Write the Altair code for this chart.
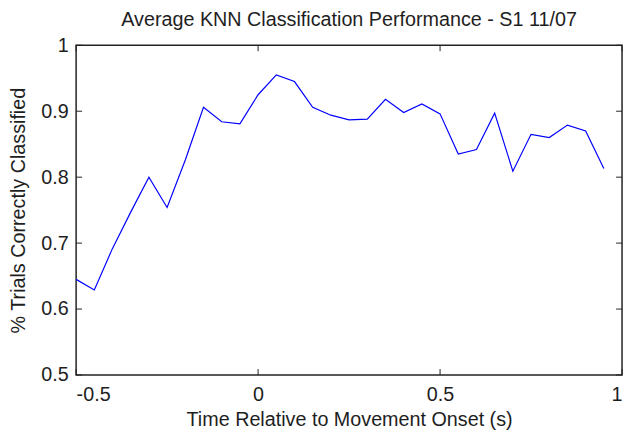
import altair as alt
import pandas as pd

# ---- data ----
time_s = [-0.50, -0.45, -0.40, -0.35, -0.30, -0.25, -0.20, -0.15, -0.10, -0.05,
          0.00, 0.05, 0.10, 0.15, 0.20, 0.25, 0.30, 0.35, 0.40, 0.45,
          0.50, 0.55, 0.60, 0.65, 0.70, 0.75, 0.80, 0.85, 0.90, 0.95]
pct_correct = [0.645, 0.629, 0.692, 0.747, 0.800, 0.754, 0.826, 0.906, 0.884, 0.881,
               0.925, 0.955, 0.945, 0.906, 0.894, 0.887, 0.888, 0.918, 0.898, 0.911,
               0.896, 0.835, 0.842, 0.897, 0.809, 0.865, 0.860, 0.879, 0.870, 0.813]
x_ticks = [-0.5, 0, 0.5, 1]
y_ticks = [0.5, 0.6, 0.7, 0.8, 0.9, 1.0]

W, H = 553, 334
FONT = "Liberation Sans"
TXT = "#1e1e1e"
TL = 6  # inward tick length

df = pd.DataFrame({"t": time_s, "v": pct_correct})
xt = pd.DataFrame({"x": x_ticks})
yt = pd.DataFrame({"y": y_ticks})

label_expr = "datum.value < 0 ? '-' + format(-datum.value, '.1~f') : format(datum.value, '.1~f')"

xscale = alt.Scale(domain=[-0.5, 1], nice=False, zero=False)
yscale = alt.Scale(domain=[0.5, 1], nice=False, zero=False)

line = alt.Chart(df).mark_line(color="#0000ff", strokeWidth=1.2).encode(
    x=alt.X("t:Q", scale=xscale,
            axis=alt.Axis(values=x_ticks, title="Time Relative to Movement Onset (s)",
                          labelExpr=label_expr, ticks=False, domain=False, grid=False,
                          labelPadding=10, titleY=51, titleBaseline="alphabetic")),
    y=alt.Y("v:Q", scale=yscale,
            axis=alt.Axis(values=y_ticks, title="% Trials Correctly Classified",
                          labelExpr=label_expr, ticks=False, domain=False, grid=False,
                          labelPadding=8, titleX=-52, titleBaseline="alphabetic")),
)

tick_style = dict(color="#222222", strokeWidth=1)
xt_bottom = alt.Chart(xt).mark_rule(**tick_style).encode(
    x=alt.X("x:Q", scale=xscale), y=alt.value(H), y2=alt.value(H - TL))
xt_top = alt.Chart(xt).mark_rule(**tick_style).encode(
    x=alt.X("x:Q", scale=xscale), y=alt.value(0), y2=alt.value(TL))
yt_left = alt.Chart(yt).mark_rule(**tick_style).encode(
    y=alt.Y("y:Q", scale=yscale), x=alt.value(0), x2=alt.value(TL))
yt_right = alt.Chart(yt).mark_rule(**tick_style).encode(
    y=alt.Y("y:Q", scale=yscale), x=alt.value(W - TL), x2=alt.value(W))

chart = alt.layer(xt_bottom, xt_top, yt_left, yt_right, line).properties(
    width=W, height=H,
    title=alt.TitleParams("Average KNN Classification Performance - S1 11/07",
                          font=FONT, fontSize=20, fontWeight="normal", color=TXT,
                          anchor="middle", frame="group", baseline="alphabetic",
                          offset=0, dy=10),
    autosize=alt.AutoSizeParams(type="none"),
    padding={"left": 69, "top": 35, "right": 3, "bottom": 56},
    background="white",
).configure_view(
    stroke="#222222", strokeWidth=1.5
).configure_axis(
    labelFont=FONT, labelFontSize=20, labelColor=TXT,
    titleFont=FONT, titleFontSize=20, titleColor=TXT, titleFontWeight="normal",
)

chart.save("out.html", embed_options={"renderer": "svg", "actions": False})
